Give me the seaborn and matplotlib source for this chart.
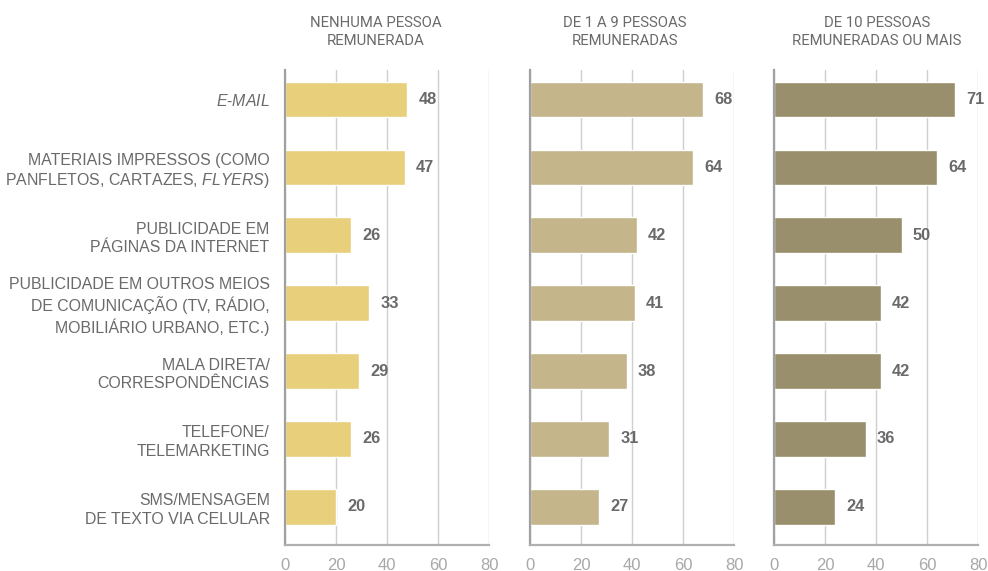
import matplotlib
matplotlib.use("Agg")
import matplotlib.pyplot as plt
import seaborn as sns
import pandas as pd

categories = [
    "$\\mathit{E}$-$\\mathit{MAIL}$",
    "MATERIAIS IMPRESSOS (COMO\nPANFLETOS, CARTAZES, $\\mathit{FLYERS}$)",
    "PUBLICIDADE EM\nPÁGINAS DA INTERNET",
    "PUBLICIDADE EM OUTROS MEIOS\nDE COMUNICAÇÃO (TV, RÁDIO,\nMOBILIÁRIO URBANO, ETC.)",
    "MALA DIRETA/\nCORRESPONDÊNCIAS",
    "TELEFONE/\nTELEMARKETING",
    "SMS/MENSAGEM\nDE TEXTO VIA CELULAR",
]
panel_titles = [
    "NENHUMA PESSOA\nREMUNERADA",
    "DE 1 A 9 PESSOAS\nREMUNERADAS",
    "DE 10 PESSOAS\nREMUNERADAS OU MAIS",
]
nenhuma = [48, 47, 26, 33, 29, 26, 20]
de1a9 = [68, 64, 42, 41, 38, 31, 27]
de10 = [71, 64, 50, 42, 42, 36, 24]
xticks = [0, 20, 40, 60, 80]

series = [nenhuma, de1a9, de10]
colors = ["#E8CF7C", "#C4B58B", "#9A8F6C"]

sns.set_theme(style="white")
fam = "Liberation Sans"
plt.rcParams["font.family"] = [fam, "DejaVu Sans"]
plt.rcParams["mathtext.fontset"] = "custom"
plt.rcParams["mathtext.rm"] = fam
plt.rcParams["mathtext.it"] = fam + ":italic"

W, H = 988, 571
fig = plt.figure(figsize=(W / 100, H / 100), dpi=100)

lefts = [285, 530, 774]
pw = 204
top, bottom = 70, 545
title_x = [376, 625, 877]
text_col = "#6a6a6a"

for i, (vals, col, left) in enumerate(zip(series, colors, lefts)):
    ax = fig.add_axes([left / W, 1 - bottom / H, pw / W, (bottom - top) / H])
    df = pd.DataFrame({"cat": categories, "val": vals})
    sns.barplot(data=df, x="val", y="cat", orient="h", color=col, ax=ax,
                width=0.52, saturation=1)
    ax.set_xlim(0, 80)
    ax.set_ylim(6.56, -0.43)
    ax.set_xticks(xticks)
    ax.set_xticklabels([str(t) for t in xticks])
    ax.set_xlabel("")
    ax.set_ylabel("")
    ax.grid(axis="x", color="#cfcfcf", linewidth=1.0)
    ax.set_axisbelow(True)
    for s in ["top", "right"]:
        ax.spines[s].set_visible(False)
    ax.spines["left"].set_color("#a0a0a0")
    ax.spines["left"].set_linewidth(1.6)
    ax.spines["bottom"].set_color("#b0b0b0")
    ax.spines["bottom"].set_linewidth(1.6)
    ax.tick_params(axis="x", length=0, pad=9, labelsize=12, labelcolor="#a8a8a8")
    if i == 0:
        ax.tick_params(axis="y", length=0, pad=11, labelsize=11.4, labelcolor=text_col)
        for lab in ax.get_yticklabels():
            lab.set_linespacing(1.26)
            lab.set_multialignment("right")
    else:
        ax.set_yticklabels([])
        ax.tick_params(axis="y", length=0)
    for c in ax.containers:
        ax.bar_label(c, labels=[str(v) for v in vals], padding=8,
                     fontsize=11.8, fontweight="bold", color=text_col)
    fig.text(title_x[i] / W, 1 - 32 / H, panel_titles[i], ha="center", va="center",
             fontsize=10.7, color=text_col, linespacing=1.3,
             family=["Roboto", "DejaVu Sans"])

fig.savefig("out.png", dpi=100)
